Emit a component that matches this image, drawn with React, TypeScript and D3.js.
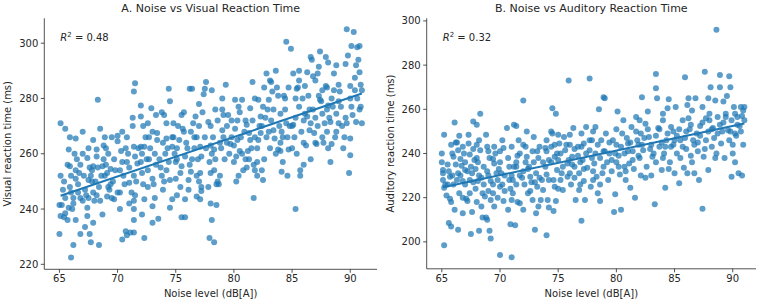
import React from "react";
import * as d3 from "d3";

// panel A: noise level (dB[A]) vs visual reaction time (ms)
const visualPoints: [number, number][] = [
  [65.1,271],[65.5,269],[65.1,252],[65.9,266],[66.4,265.5],[65.7,256],[65.9,255.5],[66.3,260],[65.8,261.5],
  [65.0,241.5],[65.2,241.5],[65.1,237.5],[65.4,237],[65.5,238.5],[65.8,240.5],[66.1,240],[65.7,236],[66.4,236],
  [65.0,231],[66.2,227],[66.0,222.5],[66.2,244],[66.4,251],[66.4,254],[66.7,253],[66.6,246],[66.8,244],[66.8,231],
  [66.8,256],[67.0,260],[67.2,233.5],[67.4,237.5],[67.4,240.5],[67.5,244],[67.5,250.5],[67.7,252],[67.7,228],
  [67.6,231],[67.4,258.5],[67.8,254],[67.9,255.5],[67.9,265],[68.3,279.5],[68.2,261.5],[68.2,259],[68.1,250],
  [68.2,245],[68.5,243],[67.9,235],[68.4,227],[68.5,269],[68.7,255.5],[68.8,263],[68.9,252],[69.1,253],[69.2,248],
  [69.4,249],[68.7,238],[69.1,244.5],[69.4,254.5],[69.7,258],[69.5,266],[70.0,266.5],[69.7,243.5],[70.0,264.5],
  [70.4,257],[70.2,246],[70.2,240],[70.4,229],[70.7,232],[70.8,230.5],[71.1,231.5],[71.4,231.5],[70.8,266],
  [70.9,260],[71.0,249.5],[71.3,273],[71.4,282.5],[71.5,285.5],[71.3,270],[71.4,262.5],[71.5,259],[71.7,256.5],
  [71.4,243],[71.5,245],[71.4,240],[71.4,236],[72.0,262.5],[72.1,260],[72.3,262.5],[72.0,273.5],[72.0,277.5],
  [72.1,253],[72.3,243.5],[72.1,238],[72.3,229.5],[72.6,271],[72.7,258],[72.6,248],[72.7,266],[72.9,276.5],
  [73.0,251],[73.0,241],[73.0,235],[73.1,249],[73.3,274],[73.4,265],[73.5,236.5],[73.7,255],[73.4,267.5],
  [73.8,275],[73.9,247],[74.1,260],[74.2,254],[74.2,265.5],[74.4,283.5],[74.5,279],[74.5,240.5],[74.7,243.5],
  [74.7,262.5],[74.7,266],[74.8,271],[75.0,257],[75.1,258],[74.5,250.5],[75.1,245],[75.4,253],[75.5,255.5],
  [75.7,275],[75.6,269],[75.5,237],[75.8,237],[75.8,243.5],[76.1,247],[76.1,250.5],[76.2,283.5],[76.4,283.5],
  [76.3,253.5],[76.6,266],[76.7,273.5],[76.8,244.5],[77.1,253],[77.1,262.5],[77.1,243.5],[77.2,248],[77.2,246.5],
  [77.4,281.5],[77.5,283.5],[77.6,286],[77.8,271.5],[78.0,253],[78.0,242],[78.1,236],[77.9,229.5],[78.3,228],
  [78.1,283],[78.3,261.5],[78.4,258],[78.5,241.5],[78.5,249],[78.7,249],[78.8,252],[79.0,268.5],[79.1,274],
  [79.3,285],[79.4,264],[79.7,263.5],[80.0,257],[80.1,279.5],[80.3,272],[80.5,261],[80.7,260],[80.7,279.5],
  [80.4,252],[81.1,255],[81.1,270.5],[81.3,267.5],[81.4,265],[81.4,276.5],[81.6,286],[81.7,244],[81.7,256],
  [81.8,254],[82.0,252],[82.1,265],[82.3,267.5],[82.1,279.5],[82.3,273.5],[82.4,254],[82.5,250.5],[82.5,277],
  [82.8,289],[82.7,273],[83.0,279.5],[83.1,286.5],[83.2,286],[83.3,282.5],[83.4,268.5],[83.5,265.5],[83.6,290],
  [83.7,284],[83.8,261.5],[84.0,274.5],[84.1,268],[84.2,266],[84.3,281],[84.4,280],[84.1,253.5],[84.5,300.5],
  [84.6,252],[84.7,261.5],[84.9,298],[85.0,270],[85.1,270.5],[85.1,289],[85.3,280],[85.3,240],[85.4,283.5],
  [85.5,284],[85.4,260],[85.6,286.5],[85.7,254],[85.7,252],[85.8,268],[86.0,264],[86.1,274.5],[86.3,273.5],
  [86.1,284.5],[86.3,289.5],[86.5,268.5],[86.6,258],[86.6,295],[86.7,294],[86.8,288],[87.0,286.5],[86.9,267.5],
  [87.0,264],[87.1,263.5],[87.3,291.5],[87.4,279.5],[87.5,279],[87.4,297],[87.6,274.5],[87.6,266],[87.7,264],
  [87.9,295],[87.9,284.5],[88.0,284],[88.0,268],[88.1,293],[88.1,277.5],[88.3,257],[88.3,271.5],[88.4,263.5],
  [88.6,283],[88.6,289],[88.7,266],[88.8,274.5],[89.0,271],[89.1,282.5],[89.3,270],[89.4,262],[89.6,292.5],
  [89.7,305],[89.8,295.5],[89.9,253],[90.0,284.5],[90.0,265.5],[90.0,259.5],[90.1,299],[90.2,274],[90.3,304],
  [90.4,287.5],[90.5,271.5],[90.6,298.5],[90.8,299],[90.7,294],[90.8,289.5],[90.9,285],[91.0,283],[90.9,277],
  [75.3,265],[75.7,268],[76.0,262],[76.4,258],[76.8,266],[77.0,270],[77.3,275],[77.6,262],[77.9,257],[78.2,266],
  [78.6,272],[79.0,276],[79.4,270],[79.8,266],[80.2,259],[80.5,275],[80.9,268],[81.2,261],[81.6,272],[82.0,262],
  [82.4,270],[82.8,266],[83.2,272],[83.6,260],[84.0,264],[84.4,276],[84.8,270],[85.2,266],[85.6,277],[86.0,272],
  [86.4,281],[86.8,276],[87.2,270],[87.6,283],[88.0,276],[88.4,280],[88.8,268],[89.2,277],[89.6,273],[90.0,280],
  [90.4,283],[90.8,276],[89.0,285],[88.2,273],[87.0,273],[86.2,263],[85.0,262],[84.2,257],[83.4,276],[82.6,258],
  [81.8,266],[81.0,258],[80.3,265],[79.6,260],[78.9,262],[78.0,270],[77.2,259],[76.5,271],[75.8,259],[75.1,262],
  [74.4,257],[73.9,264],[73.2,260],[72.6,254],[72.0,257],[71.4,252],[70.8,257],[70.2,254],[69.6,250],[69.0,256],
  [68.4,248],[67.8,250],[67.2,247],[66.6,249],[66.0,246],[65.5,244],[65.3,247],[66.2,242],[67.0,243],[67.6,255],
  [68.6,252],[69.3,247],[70.0,246],[70.6,249],[71.2,246],[71.8,262],[72.4,266],[73.0,268],[73.6,258],[74.2,271],
  [74.8,266],[75.4,248],[76.2,256],[77.0,250],[77.8,248],[78.6,250],[79.2,258],[80.0,263],[80.8,254],
  [65.4,250],[65.9,248],[66.5,258],[67.1,252],[67.3,245],[67.9,246],[68.3,255],[68.8,258],[69.2,260],[69.8,254],
  [70.3,261],[70.5,252],[71.0,255],[71.6,250],[72.2,249],[72.8,262],[73.3,256],[73.8,252],[74.3,262],[74.9,260],
  [75.2,270],[75.9,264],[76.3,268],[76.9,258],[77.5,266],[78.1,260],[78.4,276],[78.8,264],[79.1,266],[79.5,274],
  [80.1,269],[80.6,266],[81.0,272],[81.5,262],[82.2,270],[82.9,276],[83.1,262],[83.9,270],[84.6,266],[85.3,273],
  [85.9,280],[86.5,276],[87.3,281],[87.8,271],[88.5,277],[89.0,279],[89.5,266],[90.1,277],[90.6,280],[91.0,271],
  [86.0,256],[84.5,271],[83.0,268],[81.3,258],[79.8,272],[78.3,254],[76.6,262],[74.0,250],[72.5,258],[70.7,262],
  [69.0,262],[67.5,262],[66.0,252],[68.0,243],[69.5,244],[71.0,242],[73.2,244],[75.0,251],[76.8,252],[78.0,263],
  [80.2,250],[82.0,257],[84.0,261],[86.6,271],[88.1,262],[89.7,271],[90.5,292],[88.8,292],[87.2,289],[85.6,290],
  [84.7,284],[83.8,281],[82.6,284],[81.8,280],[80.4,277],[79.0,280],[77.0,278],[75.5,274],[74.0,274],[72.2,270],
  [70.4,268],[68.9,266],[67.0,268],
];

// panel B: noise level vs auditory reaction time (ms)
const auditoryPoints: [number, number][] = [
  [65.0,240],[65.0,236],[65.1,232.5],[65.1,231],[65.1,228],[65.2,224.5],[65.2,198.5],[65.2,248.5],[65.5,226],
  [65.4,221],[65.7,219.5],[65.8,218],[65.6,208.5],[65.8,207],[65.7,229.5],[65.9,230],[66.0,238.5],[66.1,214.5],
  [66.1,254],[66.2,245],[66.3,245],[66.4,241.5],[66.4,231],[66.5,222],[66.4,205.5],[66.6,237.5],[66.7,234.5],
  [66.8,243],[66.8,227.5],[67.0,232.5],[67.1,219.5],[66.8,213],[67.2,218.5],[67.3,244.5],[67.3,248.5],[67.4,239.5],
  [67.5,234],[67.6,231],[67.5,203.5],[67.6,213.5],[67.7,254.5],[67.7,242],[67.8,237],[67.9,224],[68.0,253],
  [68.1,227.5],[68.2,246],[68.2,230],[68.2,205],[68.3,241.5],[68.3,258],[68.4,216],[68.5,211],[68.5,222],
  [68.6,234],[68.7,220.5],[68.8,211],[68.9,210],[68.8,248.5],[68.9,243],[69.0,241],[69.0,223],[69.2,219],
  [69.1,205],[69.2,201.5],[69.2,227.5],[69.4,237.5],[69.5,235.5],[69.5,243],[69.5,216],[69.7,231],[69.8,228],
  [70.0,225],[70.0,194],[70.1,231],[70.2,246],[70.3,218.5],[70.3,242.5],[70.4,223],[70.6,251.5],[70.7,214.5],
  [70.8,234],[70.8,228],[70.9,208],[71.0,243],[71.0,193],[71.1,222],[71.1,228],[71.2,253],[71.4,252.5],
  [71.3,207.5],[71.4,234],[71.4,226],[71.5,239],[71.6,246],[71.7,217.5],[71.7,230],[72.0,264],[72.0,214.5],
  [72.1,226],[72.2,243],[72.3,238.5],[72.3,250],[72.4,222],[72.5,234],[72.6,229.5],[72.8,219],[72.8,241],
  [72.9,247.5],[73.0,205.5],[73.1,213],[73.1,231],[73.2,225],[73.3,238],[73.4,243],[73.5,219],[73.6,228],
  [73.7,223.5],[73.9,242.5],[74.0,230.5],[74.0,203],[74.1,219],[74.2,237],[74.2,215.5],[74.4,250],[74.5,249],
  [74.4,243],[74.5,260.5],[74.6,214],[74.7,238.5],[74.7,225],[74.8,258],[74.8,218.5],[74.9,232.5],[75.0,248.5],
  [75.1,244.5],[75.2,240],[75.3,231],[75.4,223.5],[75.5,247.5],[75.6,241.5],[75.8,235.5],[75.8,229.5],[75.9,273],
  [76.0,248.5],[76.1,226],[76.2,238.5],[76.3,251.5],[76.4,234],[76.5,219],[76.7,243],[76.8,231],[76.8,223.5],
  [77.0,249],[77.0,209.5],[77.1,237],[77.2,244.5],[77.2,227.5],[77.3,219],[77.4,252],[77.5,233.5],[77.7,274],
  [77.7,241.5],[77.8,225],[77.9,246],[78.0,250],[78.1,235.5],[78.3,229.5],[78.4,222],[78.5,260],[78.6,238],
  [78.6,218.5],[78.8,231],[78.9,265.5],[79.0,265],[78.9,241],[79.1,249],[79.3,228],[79.4,240],[79.6,237],
  [79.8,213.5],[79.9,221.5],[80.0,244],[80.1,259],[80.2,234],[80.3,230.5],[80.4,214.5],[80.5,249],[80.6,255],
  [80.7,240],[80.8,228],[81.0,244.5],[81.1,235.5],[81.2,224.5],[81.3,252],[81.5,233],[81.6,220],[81.7,256.5],
  [81.8,246],[81.9,239],[82.1,230],[82.1,249],[82.2,265.5],[82.3,241.5],[82.5,253.5],[82.6,234],[82.7,259],
  [82.8,247.5],[83.0,230],[83.1,238.5],[83.3,217],[83.4,276],[83.4,269.5],[83.5,265],[83.6,251.5],[83.7,243],
  [83.9,232.5],[84.0,255],[84.1,240],[84.2,224.5],[84.3,246],[84.4,260.5],[84.5,264.5],[84.6,236],[84.7,243],
  [84.9,250],[85.0,231],[85.1,261],[85.2,240],[85.4,226.5],[85.5,246],[85.7,255],[85.8,233.5],[85.9,274.5],
  [86.0,242],[86.1,231],[86.2,265],[86.3,251],[86.4,239],[86.5,259.5],[86.6,246],[86.7,231],[86.8,265],
  [87.0,241],[87.1,228],[87.2,252.5],[87.4,261],[87.4,215],[87.5,238.5],[87.6,277],[87.7,246],[87.9,232.5],
  [88.0,258],[88.1,270],[88.2,243],[88.3,251.5],[88.5,264],[88.6,296],[88.6,240],[88.7,256.5],[88.9,275.5],
  [88.9,270],[89.0,244.5],[89.2,263.5],[89.3,238],[89.4,256.5],[89.6,250.5],[89.7,275],[89.8,270],[89.9,229.5],
  [90.0,244],[90.1,261],[90.2,236],[90.3,248],[90.4,256.5],[90.5,231],[90.6,252.5],[90.7,261],[90.8,230],
  [90.9,244],[90.9,259.5],[91.0,261],
  [65.6,232],[66.0,226],[66.6,230],[67.0,236],[67.4,228],[67.9,233],[68.4,229],[68.9,232],[69.4,226],[69.9,233],
  [70.4,230],[70.9,224],[71.4,236],[71.9,229],[72.4,233],[72.9,236],[73.4,229],[73.9,234],[74.4,236],[74.9,240],
  [75.4,234],[75.9,237],[76.4,242],[76.9,236],[77.4,240],[77.9,238],[78.4,244],[78.9,234],[79.4,245],[79.9,240],
  [80.4,243],[80.9,247],[81.4,241],[81.9,244],[82.4,247],[82.9,242],[83.4,248],[83.9,245],[84.4,249],[84.9,244],
  [85.4,251],[85.9,247],[86.4,253],[86.9,249],[87.4,254],[87.9,250],[88.4,247],[88.9,253],[89.4,258],[89.9,255],
  [90.4,253],[90.8,257],[90.2,249],[89.1,250],[88.0,255],[87.0,245],[86.0,250],[85.0,246],[84.0,238],[83.0,244],
  [82.0,238],[81.0,241],[80.0,236],[79.0,241],[78.0,232],[77.0,243],[76.0,231],[75.0,237],[74.0,241],[73.0,227],
  [72.0,232],[71.0,230],[70.0,236],[69.0,230],[68.0,238],[67.0,226],[66.2,235],[65.3,226],
  [65.5,235],[65.9,240],[66.3,228],[66.9,240],[67.2,232],[67.7,227],[68.1,236],[68.6,226],[69.1,238],[69.6,240],
  [70.2,226],[70.7,238],[71.2,234],[71.7,240],[72.2,236],[72.7,227],[73.2,241],[73.7,236],[74.2,228],[74.7,244],
  [75.2,228],[75.7,244],[76.2,235],[76.7,239],[77.2,233],[77.7,246],[78.2,240],[78.7,246],[79.2,236],[79.7,246],
  [80.2,239],[80.7,234],[81.2,245],[81.7,250],[82.2,244],[82.7,251],[83.2,240],[83.7,251],[84.2,243],[84.7,252],
  [85.2,248],[85.7,243],[86.2,256],[86.7,244],[87.2,248],[87.7,256],[88.2,251],[88.7,249],[89.2,254],[89.7,246],
  [90.2,258],[90.7,250],[66.8,220],[68.0,218],[69.8,220],[71.5,218],[73.3,216],[75.0,224],[76.9,226],[78.6,226],
  [80.8,232],[82.5,229],[84.5,233],[86.5,236],[88.5,238],[90.0,240],[89.5,266],[87.9,265],[86.1,262],[84.0,258],
  [82.0,255],[80.0,251],[78.2,252],[76.0,244],[74.0,246],[72.0,244],[70.0,241],[68.0,244],[66.5,248],[65.8,244],
  [67.4,222],[69.4,222],[71.0,219],[72.6,223],[74.6,228],[76.4,229],[78.0,228],[79.6,232],[81.4,237],[83.4,236],
  [85.5,238],[87.6,242],[89.8,250],[91.0,255],
];

// fitted lines at the two ends of the noise range, as drawn in the picture
const fitX = [65.1, 91.0];
const fitVisual = [244.8, 281.8];
const fitAuditory = [224.7, 253.6];

const xTicks = [65, 70, 75, 80, 85, 90];
const visualTicks = [220, 240, 260, 280, 300];
const auditoryTicks = [200, 220, 240, 260, 280, 300];

const BLUE = "#1f77b4";
const INK = "#262626";
const FONT = "DejaVu Sans, sans-serif";

type PanelProps = {
  left: number;
  right: number;
  top: number;
  bottom: number;
  title: string;
  yLabel: string;
  r2: string;
  points: [number, number][];
  fit: number[];
  xDomain: [number, number];
  yDomain: [number, number];
  yTicks: number[];
};

const Panel = (p: PanelProps) => {
  const x = d3.scaleLinear().domain(p.xDomain).range([p.left, p.right]);
  const y = d3.scaleLinear().domain(p.yDomain).range([p.bottom, p.top]);
  const line = d3
    .line<number>()
    .x((_, i) => x(fitX[i]))
    .y((d) => y(d));
  const midY = (p.top + p.bottom) / 2;

  return (
    <g>
      <text x={(p.left + p.right) / 2} y={12} textAnchor="middle" fontSize={11} fill={INK}>
        {p.title}
      </text>
      {p.points.map((d, i) => (
        <circle key={i} cx={x(d[0])} cy={y(d[1])} r={3} fill={BLUE} fillOpacity={0.72} />
      ))}
      <path d={line(p.fit) || ""} fill="none" stroke={BLUE} strokeWidth={2} />
      <line x1={p.left} x2={p.left} y1={p.top} y2={p.bottom} stroke={INK} strokeWidth={0.8} />
      <line x1={p.left} x2={p.right} y1={p.bottom} y2={p.bottom} stroke={INK} strokeWidth={0.8} />
      {xTicks.map((t) => (
        <g key={t}>
          <line x1={x(t)} x2={x(t)} y1={p.bottom} y2={p.bottom + 3.5} stroke={INK} strokeWidth={0.8} />
          <text x={x(t)} y={p.bottom + 13} textAnchor="middle" fontSize={10} fill={INK}>
            {t}
          </text>
        </g>
      ))}
      {p.yTicks.map((t) => (
        <g key={t}>
          <line x1={p.left - 3.5} x2={p.left} y1={y(t)} y2={y(t)} stroke={INK} strokeWidth={0.8} />
          <text x={p.left - 6} y={y(t) + 3.5} textAnchor="end" fontSize={10} fill={INK}>
            {t}
          </text>
        </g>
      ))}
      <text x={(p.left + p.right) / 2} y={p.bottom + 28} textAnchor="middle" fontSize={10} fill={INK}>
        Noise level (dB[A])
      </text>
      <text
        transform={`translate(${p.left - 33},${midY}) rotate(-90)`}
        textAnchor="middle"
        fontSize={10}
        fill={INK}
      >
        {p.yLabel}
      </text>
      <text x={p.left + 16} y={p.top + 23} fontSize={10} fill={INK}>
        <tspan fontStyle="italic">R</tspan>
        <tspan fontSize={7} dy={-4}>2</tspan>
        <tspan dy={4}> = {p.r2}</tspan>
      </text>
    </g>
  );
};

const App = () => {
  return (
    <svg width={767} height={304} style={{ position: "absolute", left: 0, top: 0, fontFamily: FONT }}>
      <rect width={767} height={304} fill="#fff" />
      <Panel
        left={44.3}
        right={377}
        top={18.3}
        bottom={269.3}
        title="A. Noise vs Visual Reaction Time"
        yLabel="Visual reaction time (ms)"
        r2="0.48"
        points={visualPoints}
        fit={fitVisual}
        xDomain={[63.7, 92.3]}
        yDomain={[218.2, 309]}
        yTicks={visualTicks}
      />
      <Panel
        left={426.7}
        right={756}
        top={18.3}
        bottom={268.8}
        title="B. Noise vs Auditory Reaction Time"
        yLabel="Auditory reaction time (ms)"
        r2="0.32"
        points={auditoryPoints}
        fit={fitAuditory}
        xDomain={[63.7, 92.0]}
        yDomain={[187.8, 301.2]}
        yTicks={auditoryTicks}
      />
    </svg>
  );
};

export default App;
